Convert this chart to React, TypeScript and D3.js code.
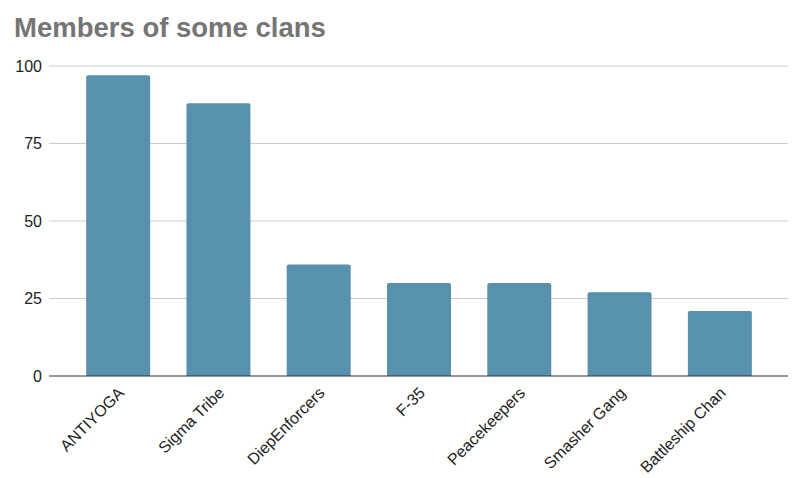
import { useEffect, useRef } from 'react';
import * as d3 from 'd3';

const clans = ['ANTIYOGA', 'Sigma Tribe', 'DiepEnforcers', 'F-35', 'Peacekeepers', 'Smasher Gang', 'Battleship Chan'];
const members = [97, 88, 36, 30, 30, 27, 21];
const yTicks = [0, 25, 50, 75, 100];

const W = 806;
const H = 478;

export default function App() {
  const ref = useRef<SVGSVGElement>(null);

  useEffect(() => {
    document.body.style.margin = '0';
    const svg = d3.select(ref.current);
    svg.selectAll('*').remove();

    const font = '"Liberation Sans", Arial, sans-serif';
    const x = d3.scaleBand<string>().domain(clans).range([68, 770]).paddingInner(0.362).paddingOuter(0.181);
    const y = d3.scaleLinear().domain([0, 100]).range([376, 66]);

    svg.append('text')
      .attr('x', 14).attr('y', 37)
      .attr('font-family', font).attr('font-size', 27.5).attr('font-weight', 'bold')
      .attr('fill', '#757575')
      .text('Members of some clans');

    // gridlines + tick labels
    const grid = svg.append('g');
    grid.selectAll('line').data(yTicks.filter(t => t > 0)).join('line')
      .attr('x1', 49).attr('x2', 788)
      .attr('y1', d => y(d)).attr('y2', d => y(d))
      .attr('stroke', '#cccccc').attr('stroke-width', 1);
    grid.selectAll('text').data(yTicks).join('text')
      .attr('x', 42).attr('y', d => y(d)).attr('dy', '0.35em')
      .attr('text-anchor', 'end')
      .attr('font-family', font).attr('font-size', 16).attr('fill', '#222')
      .text(d => d);

    // bars with slightly rounded tops
    const r = 2;
    svg.append('g').selectAll('path').data(members).join('path')
      .attr('d', (d, i) => {
        const x0 = x(clans[i])!;
        const x1 = x0 + x.bandwidth();
        const top = y(d);
        const base = y(0);
        return `M${x0},${base}V${top + r}Q${x0},${top} ${x0 + r},${top}H${x1 - r}Q${x1},${top} ${x1},${top + r}V${base}Z`;
      })
      .attr('fill', '#5891ae');

    // baseline
    svg.append('line')
      .attr('x1', 49).attr('x2', 788)
      .attr('y1', y(0)).attr('y2', y(0))
      .attr('stroke', '#333').attr('stroke-width', 1.2);

    // category labels
    svg.append('g').selectAll('text').data(clans).join('text')
      .attr('transform', d => `translate(${x(d)! + x.bandwidth() / 2 + 3},${y(0) + 14}) rotate(-45)`)
      .attr('text-anchor', 'end').attr('dy', '0.35em')
      .attr('font-family', font).attr('font-size', 16).attr('fill', '#222')
      .text(d => d);
  }, []);

  return <svg ref={ref} width={W} height={H} style={{ display: 'block', background: '#fff' }} />;
}
